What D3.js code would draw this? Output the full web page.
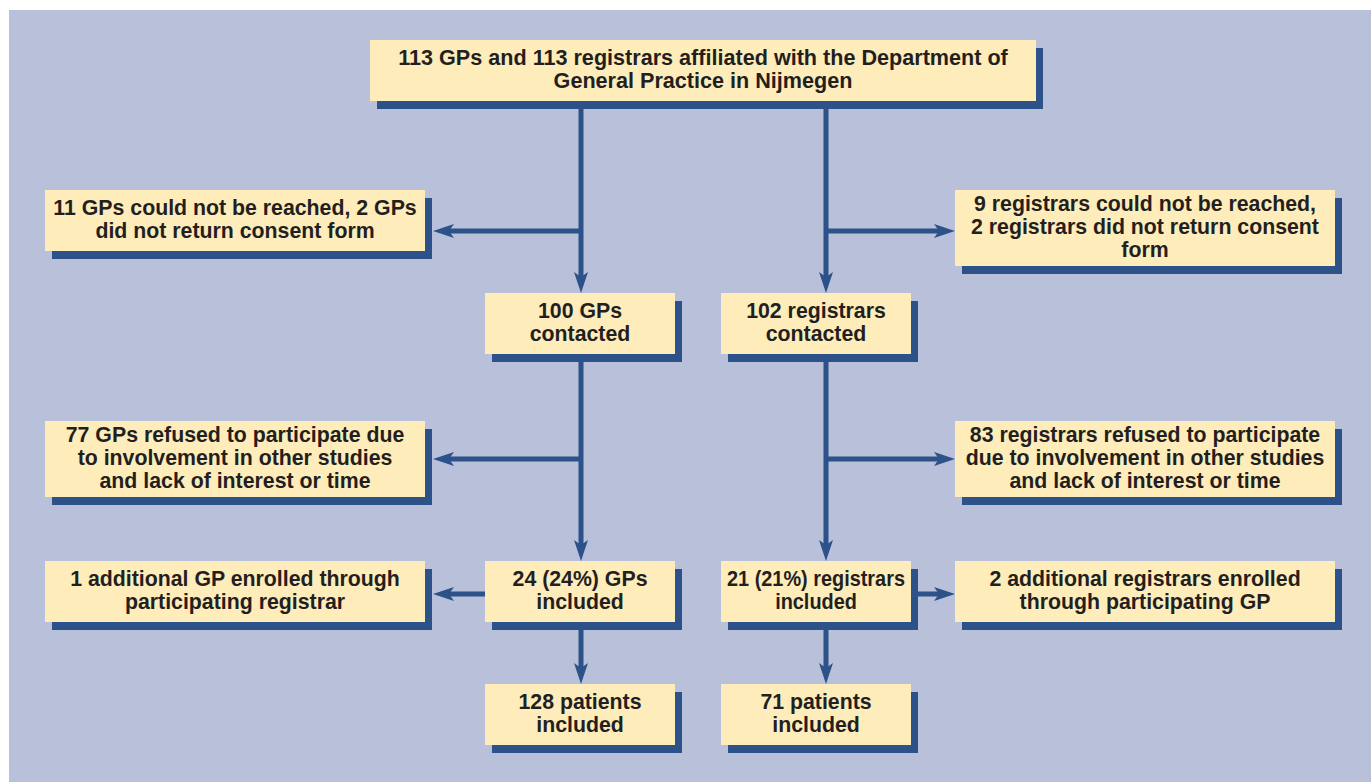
<!DOCTYPE html>
<html lang="en">
<head>
	<meta charset="utf-8">
	<title>Study flowchart</title>
	<script src="https://d3js.org/d3.v7.min.js"></script>
	<style>
		body {margin:0; background:#ffffff;}
		.box text {font-family:"Liberation Sans", Arial, Helvetica, sans-serif; font-weight:bold; font-size:21.3px; fill:#231f20;}
		.box text.narrow {font-size:22.5px;}
	</style>
</head>
<body>
	<div id="chart"></div>
	<script>
		// box labels, one array of lines per box
		const boxLines = [
			["113 GPs and 113 registrars affiliated with the Department of", "General Practice in Nijmegen"],
			["11 GPs could not be reached, 2 GPs", "did not return consent form"],
			["9 registrars could not be reached,", "2 registrars did not return consent", "form"],
			["100 GPs", "contacted"],
			["102 registrars", "contacted"],
			["77 GPs refused to participate due", "to involvement in other studies", "and lack of interest or time"],
			["83 registrars refused to participate", "due to involvement in other studies", "and lack of interest or time"],
			["24 (24%) GPs", "included"],
			["21 (21%) registrars", "included"],
			["1 additional GP enrolled through", "participating registrar"],
			["2 additional registrars enrolled", "through participating GP"],
			["128 patients", "included"],
			["71 patients", "included"]
		];
		// which column / row each box sits in
		const boxColumn = ["top", "left", "right", "gp", "reg", "left", "right", "gp", "reg", "left", "right", "gp", "reg"];
		const boxRow = [0, 1, 1, 2, 2, 3, 3, 4, 4, 4, 4, 5, 5];
		// arrows: [from box, to box]
		const arrows = [[0, 3], [0, 4], [0, 1], [0, 2], [3, 7], [4, 8], [3, 5], [4, 6], [7, 9], [8, 10], [7, 11], [8, 12]];

		const width = 1371, height = 782;
		const lineHeight = 23, shadowX = 7, shadowY = 8;
		const boxColor = "#feecbb", blue = "#2d5189", panel = "#b8c0da";

		const colScale = d3.scaleOrdinal()
			.domain(["top", "left", "gp", "reg", "right"])
			.range([[370, 1036], [45, 425], [485, 675], [721, 911], [955, 1335]]);
		const trunkScale = d3.scaleOrdinal().domain(["gp", "reg"]).range([581, 826]);
		const rowScale = d3.scaleOrdinal().domain([0, 1, 2, 3, 4, 5]).range([40, 190, 293, 421, 561, 684]);
		const branchScale = d3.scaleOrdinal().domain([1, 3, 4]).range([231, 459, 594]);

		const boxes = boxLines.map(function (lines, i) {
			let xr = colScale(boxColumn[i]);
			let h = Math.max(61, lineHeight * (lines.length - 1) + 30);
			return {lines: lines, x0: xr[0], x1: xr[1], y0: rowScale(boxRow[i]), y1: rowScale(boxRow[i]) + h,
				col: boxColumn[i], row: boxRow[i]};
		});

		const svg = d3.select("#chart")
			.append("svg")
			.attr("width", width)
			.attr("height", height);

		svg.append("rect")
			.attr("x", 9).attr("y", 10)
			.attr("width", width - 9).attr("height", height - 10)
			.attr("fill", panel);

		svg.append("defs").append("marker")
			.attr("id", "head")
			.attr("markerUnits", "userSpaceOnUse")
			.attr("viewBox", "-12 -9 26 18")
			.attr("markerWidth", 26).attr("markerHeight", 18)
			.attr("refX", 0).attr("refY", 0)
			.attr("orient", "auto")
			.append("path")
			.attr("d", "M12,0 L-9,-7 L-4,0 L-9,7 Z")
			.attr("fill", blue);

		// turn each arrow into a segment with its tip at the target box
		const segs = arrows.map(function (a) {
			let s = boxes[a[0]], t = boxes[a[1]];
			if (t.col === "gp" || t.col === "reg") {
				let x = trunkScale(t.col);
				return {x1: x, y1: s.y1, x2: x, y2: t.y0};
			}
			let y = branchScale(t.row);
			let trunk = t.col === "left" ? "gp" : "reg";
			let startX = s.row === t.row ? (t.col === "left" ? s.x0 : s.x1 + shadowX) : trunkScale(trunk);
			let endX = t.col === "left" ? t.x1 + shadowX + 1 : t.x0;
			return {x1: startX, y1: y, x2: endX, y2: y};
		});

		svg.append("g").selectAll("line")
			.data(segs)
			.enter()
			.append("line")
			.attr("x1", function (d) { return d.x1; })
			.attr("y1", function (d) { return d.y1; })
			.attr("x2", function (d) { return d.x2 - 12 * Math.sign(d.x2 - d.x1); })
			.attr("y2", function (d) { return d.y2 - 12 * Math.sign(d.y2 - d.y1); })
			.attr("stroke", blue)
			.attr("stroke-width", 5)
			.attr("marker-end", "url(#head)");

		const g = svg.selectAll("g.box")
			.data(boxes)
			.enter()
			.append("g")
			.attr("class", "box");

		g.append("rect")
			.attr("x", function (d) { return d.x0 + shadowX; })
			.attr("y", function (d) { return d.y0 + shadowY; })
			.attr("width", function (d) { return d.x1 - d.x0; })
			.attr("height", function (d) { return d.y1 - d.y0; })
			.attr("fill", blue);
		g.append("rect")
			.attr("x", function (d) { return d.x0; })
			.attr("y", function (d) { return d.y0; })
			.attr("width", function (d) { return d.x1 - d.x0; })
			.attr("height", function (d) { return d.y1 - d.y0; })
			.attr("fill", boxColor);

		g.each(function (d) {
			let cx = (d.x0 + d.x1) / 2;
			let cy = (d.y0 + d.y1) / 2 - 1.5;
			let n = d.lines.length;
			let top = d.col === "top";
			let txt = d3.select(this).append("text")
				.attr("class", top ? "narrow" : null)
				.attr("text-anchor", "middle");
			d.lines.forEach(function (line, i) {
				txt.append("tspan")
					.attr("x", 0)
					.attr("y", cy + (i - (n - 1) / 2) * lineHeight)
					.attr("dy", "0.35em")
					.text(line);
			});
			// squeeze a line that would touch the box edges
			let widest = d3.max(txt.selectAll("tspan").nodes(), function (t) { return t.getComputedTextLength(); });
			let sx = top ? 0.96 : Math.min(1, (d.x1 - d.x0 - 12) / widest);
			txt.attr("transform", "translate(" + cx + ",0) scale(" + sx + ",1)");
		});
	</script>
</body>
</html>
